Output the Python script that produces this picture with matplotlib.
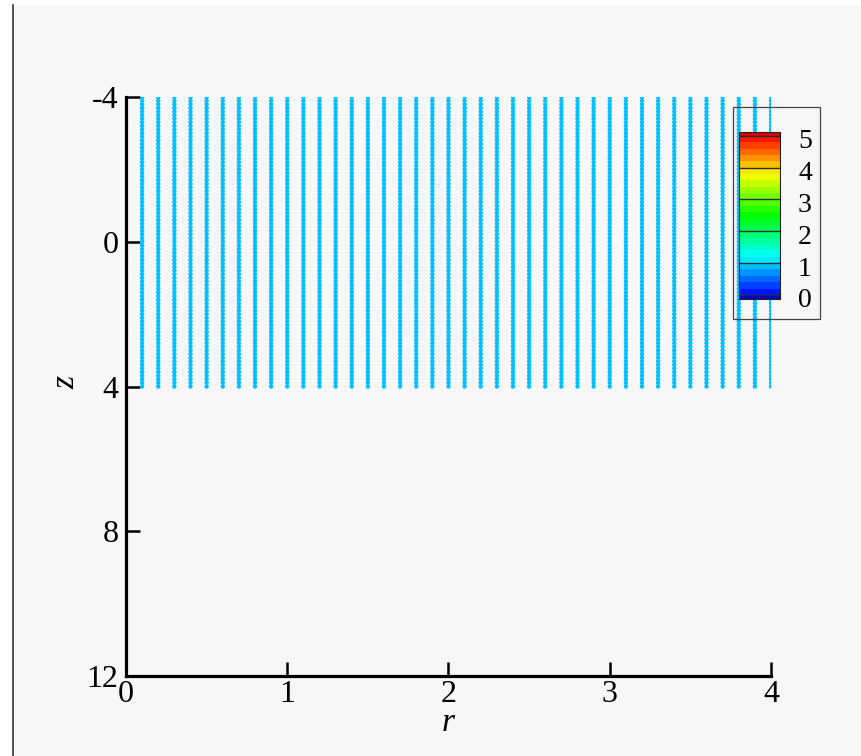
import numpy as np
import matplotlib
matplotlib.use("Agg")
import matplotlib.pyplot as plt
from matplotlib.colors import LinearSegmentedColormap, ListedColormap, BoundaryNorm
from matplotlib.patches import Rectangle

plt.rcParams['font.family'] = ['Liberation Serif', 'DejaVu Serif']
plt.rcParams['axes.unicode_minus'] = False

# grid of sample points: 40 columns in r, 81 rows in z
r_cols = [0.1, 0.2, 0.3, 0.4, 0.5, 0.6, 0.7, 0.8, 0.9, 1.0,
          1.1, 1.2, 1.3, 1.4, 1.5, 1.6, 1.7, 1.8, 1.9, 2.0,
          2.1, 2.2, 2.3, 2.4, 2.5, 2.6, 2.7, 2.8, 2.9, 3.0,
          3.1, 3.2, 3.3, 3.4, 3.5, 3.6, 3.7, 3.8, 3.9, 4.0]
z_rows = np.linspace(-4.0, 4.0, 81)
field_value = 0.95  # every point sits in the same contour band

x_ticks = [0, 1, 2, 3, 4]
y_ticks = [-4, 0, 4, 8, 12]
legend_levels = [0, 1, 2, 3, 4, 5]
band_levels = [-0.13] + [round(0.2 * i, 1) for i in range(26)] + [5.13]

# small-rainbow style colour map over 0..5
cmap = LinearSegmentedColormap.from_list(
    "smallrainbow",
    [(0.0, "#0000ff"), (0.24, "#00ffff"), (0.5, "#00ff00"),
     (0.76, "#ffff00"), (1.0, "#ff0000")])
mids = [(band_levels[i] + band_levels[i + 1]) / 2 for i in range(len(band_levels) - 1)]
band_colors = [cmap(np.clip(m / 5.0, 0, 1)) for m in mids]
band_colors[0] = "#0000c8"
band_colors[-1] = "#e00000"
bcmap = ListedColormap(band_colors)
norm = BoundaryNorm(band_levels, bcmap.N)

W, H = 862, 756
fig = plt.figure(figsize=(W / 100, H / 100), dpi=100)
fig.patch.set_facecolor("#f7f7f7")

# white margins with a dark rule on the left, like the window frame
fig.patches.append(Rectangle((0, 0), 13 / W, 1, transform=fig.transFigure,
                             facecolor="white", edgecolor="none", zorder=0))
fig.patches.append(Rectangle((0, 1 - 5 / H), 1, 5 / H, transform=fig.transFigure,
                             facecolor="white", edgecolor="none", zorder=0))
fig.add_artist(plt.Line2D([13 / W, 13 / W], [0, 1 - 5 / H], transform=fig.transFigure,
                          color="#333333", lw=1.2))

ax = fig.add_axes([126 / W, 1 - 676 / H, 645 / W, 579 / H])
ax.set_facecolor("none")

rr, zz = np.meshgrid(r_cols, z_rows)
vals = np.full(rr.shape, field_value)
ax.scatter(rr.ravel(), zz.ravel(), c=vals.ravel(), cmap=bcmap, norm=norm,
           s=10, marker="o", linewidths=0, zorder=2)

ax.set_xlim(0, 4)
ax.set_ylim(12, -4)
ax.set_xticks(x_ticks)
ax.set_yticks(y_ticks)
ax.set_xticklabels([str(t) for t in x_ticks])
ax.set_yticklabels([str(t) for t in y_ticks])
for s in ["top", "right"]:
    ax.spines[s].set_visible(False)
for s in ["left", "bottom"]:
    ax.spines[s].set_linewidth(2.3)
ax.tick_params(direction="in", length=10, width=1.8, labelsize=23, colors="black")
ax.tick_params(axis="y", pad=5.5)
ax.tick_params(axis="x", pad=3)

fig.text(448 / W, 1 - 723 / H, "r", fontsize=24, style="italic",
         ha="center", va="center")
fig.text(66 / W, 1 - 382 / H, "z", fontsize=24, style="italic",
         ha="center", va="center", rotation=90)

# legend frame (transparent) and contour-band colour bar
fig.patches.append(Rectangle((733 / W, 1 - 319 / H), 87 / W, 212 / H,
                             transform=fig.transFigure, facecolor="none",
                             edgecolor="#444444", lw=0.9, zorder=5))
cax = fig.add_axes([739 / W, 1 - 299 / H, 41 / W, 167.3 / H])
for i in range(len(band_levels) - 1):
    cax.axhspan(band_levels[i], band_levels[i + 1], color=band_colors[i], lw=0)
cax.hlines(legend_levels, 0, 1, colors="#203030", lw=1.0)
cax.set_xlim(0, 1)
cax.set_ylim(band_levels[0], band_levels[-1])
cax.set_xticks([])
cax.set_yticks([])
for s in cax.spines.values():
    s.set_linewidth(0.8)
    s.set_color("#222222")
for lv in legend_levels:
    y_px = 299 - (lv - band_levels[0]) / (band_levels[-1] - band_levels[0]) * 167.3 + 6
    fig.text(805 / W, 1 - y_px / H, str(lv), fontsize=20, ha="center", va="center")

fig.savefig("out.png", dpi=100, facecolor=fig.get_facecolor())
